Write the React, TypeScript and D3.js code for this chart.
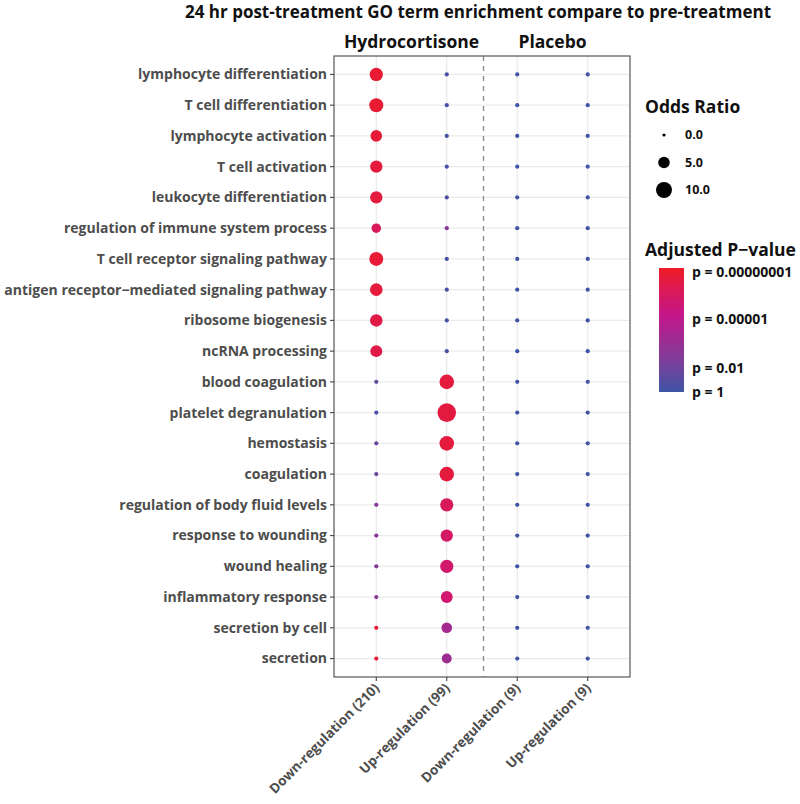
import React from "react";
import * as d3 from "d3";

const terms = [
  "lymphocyte differentiation",
  "T cell differentiation",
  "lymphocyte activation",
  "T cell activation",
  "leukocyte differentiation",
  "regulation of immune system process",
  "T cell receptor signaling pathway",
  "antigen receptor\u2212mediated signaling pathway",
  "ribosome biogenesis",
  "ncRNA processing",
  "blood coagulation",
  "platelet degranulation",
  "hemostasis",
  "coagulation",
  "regulation of body fluid levels",
  "response to wounding",
  "wound healing",
  "inflammatory response",
  "secretion by cell",
  "secretion",
];

const groups = ["Down-regulation (210)", "Up-regulation (99)", "Down-regulation (9)", "Up-regulation (9)"];
const facets = ["Hydrocortisone", "Placebo"];

// odds ratio per term for each group
const orHcDown = [6.8, 7.6, 5.1, 5.8, 5.8, 3.3, 7.6, 6.1, 6.0, 5.4, 0.3, 0.3, 0.3, 0.3, 0.3, 0.3, 0.3, 0.3, 0.3, 0.3];
const orHcUp = [0.3, 0.3, 0.3, 0.3, 0.3, 0.3, 0.3, 0.3, 0.3, 0.3, 8.3, 13.7, 8.3, 8.3, 6.8, 5.8, 6.8, 5.4, 4.2, 3.6];
const orPlDown = [0.3, 0.3, 0.3, 0.3, 0.3, 0.3, 0.3, 0.3, 0.3, 0.3, 0.3, 0.3, 0.3, 0.3, 0.3, 0.3, 0.3, 0.3, 0.3, 0.3];
const orPlUp = [0.3, 0.3, 0.3, 0.3, 0.3, 0.3, 0.3, 0.3, 0.3, 0.3, 0.3, 0.3, 0.3, 0.3, 0.3, 0.3, 0.3, 0.3, 0.3, 0.3];

// -log10 adjusted p-value
const lpHcDown = [7.6, 7.6, 7.4, 7.3, 7.3, 6.4, 7.5, 7.3, 7.0, 7.0, 1.2, 0.4, 1.4, 1.3, 2.4, 2.4, 2.4, 2.6, 7.4, 7.4];
const lpHcUp = [0.3, 0.3, 0.4, 0.5, 0.5, 2.5, 0.3, 0.3, 0.3, 0.3, 7.3, 7.2, 7.3, 7.3, 6.4, 6.2, 5.9, 5.8, 3.6, 3.4];
const lpPlDown = [0.1, 0.1, 0.1, 0.1, 0.1, 0.1, 0.1, 0.1, 0.1, 0.1, 0.1, 0.1, 0.1, 0.1, 0.1, 0.1, 0.1, 0.1, 0.1, 0.1];
const lpPlUp = [0.1, 0.1, 0.1, 0.1, 0.1, 0.1, 0.1, 0.1, 0.1, 0.1, 0.1, 0.1, 0.1, 0.1, 0.1, 0.1, 0.1, 0.1, 0.1, 0.1];

const orSeries = [orHcDown, orHcUp, orPlDown, orPlUp];
const lpSeries = [lpHcDown, lpHcUp, lpPlDown, lpPlUp];

const sizeBreaks = [0, 5, 10];
const pBreaks = [7.75, 4.7, 1.55, 0];
const pLabels = ["p = 0.00000001", "p = 0.00001", "p = 0.01", "p = 1"];

const FONT = "'Open Sans', sans-serif";
const GRAY = "#4D4D4D";

export default function App() {
  const W = 800, H = 804;
  const panel = { l: 334, r: 630, t: 56, b: 677 };

  const x = d3.scalePoint<string>().domain(groups).range([panel.l, panel.r]).padding(0.6);
  const y = d3.scalePoint<string>().domain(terms).range([panel.t, panel.b]).padding(0.6);

  const rScale = (v: number) => Math.sqrt(2.6 + v * 6.1);
  const color = d3
    .scaleLinear<string>()
    .domain([0, 2, 5, 8])
    .range(["#3E55A6", "#7C3E99", "#C5168A", "#EE1C25"])
    .interpolate(d3.interpolateRgb)
    .clamp(true);

  const dashX = ((x(groups[1]) as number) + (x(groups[2]) as number)) / 2 + 1.5;

  const cb = { x: 659, w: 25, top: 268, bot: 392 };
  const cbY = d3.scaleLinear().domain([0, 8]).range([cb.bot, cb.top]);

  const gradStops = d3.range(0, 8.01, 0.5);

  return (
    <svg width={W} height={H} style={{ display: "block", position: "absolute", left: 0, top: 0 }}>
      <defs>
        <linearGradient id="pgrad" x1="0" y1="1" x2="0" y2="0">
          {gradStops.map((s) => (
            <stop key={s} offset={`${(s / 8) * 100}%`} stopColor={color(s)} />
          ))}
        </linearGradient>
      </defs>
      <rect width={W} height={H} fill="#fff" />
      <text x={478} y={18} textAnchor="middle" fontFamily={FONT} fontWeight={700} fontSize={17} fill="#111">
        24 hr post-treatment GO term enrichment compare to pre-treatment
      </text>
      {facets.map((f, i) => {
        const cx = ((x(groups[i * 2]) as number) + (x(groups[i * 2 + 1]) as number)) / 2;
        return (
          <text key={f} x={cx} y={48} textAnchor="middle" fontFamily={FONT} fontWeight={700} fontSize={17.5} fill="#111">
            {f}
          </text>
        );
      })}
      {/* grid */}
      {terms.map((t) => (
        <line key={t} x1={panel.l} x2={panel.r} y1={y(t)} y2={y(t)} stroke="#EBEBEB" strokeWidth={1.3} />
      ))}
      {groups.map((g) => (
        <line key={g} x1={x(g)} x2={x(g)} y1={panel.t} y2={panel.b} stroke="#EBEBEB" strokeWidth={1.3} />
      ))}
      <line x1={dashX} x2={dashX} y1={panel.t} y2={panel.b} stroke="#888" strokeWidth={1.3} strokeDasharray="5,5" />
      {/* points */}
      {groups.map((g, gi) =>
        terms.map((t, ti) => (
          <circle
            key={g + t}
            cx={x(g)}
            cy={y(t)}
            r={rScale(orSeries[gi][ti])}
            fill={color(lpSeries[gi][ti])}
          />
        ))
      )}
      <rect x={panel.l} y={panel.t} width={panel.r - panel.l} height={panel.b - panel.t} fill="none" stroke="#555" strokeWidth={1.2} />
      {/* y axis */}
      {terms.map((t) => (
        <g key={t}>
          <line x1={panel.l - 4} x2={panel.l} y1={y(t)} y2={y(t)} stroke="#444" strokeWidth={1.1} />
          <text x={panel.l - 7} y={y(t)} dy="0.35em" textAnchor="end" fontFamily={FONT} fontWeight={700} fontSize={14} fill={GRAY}>
            {t}
          </text>
        </g>
      ))}
      {/* x axis */}
      {groups.map((g) => (
        <g key={g}>
          <line x1={x(g)} x2={x(g)} y1={panel.b} y2={panel.b + 4} stroke="#444" strokeWidth={1.1} />
          <text
            transform={`translate(${(x(g) as number) + 4},${panel.b + 12}) rotate(-45)`}
            textAnchor="end"
            fontFamily={FONT}
            fontWeight={700}
            fontSize={13.5}
            fill={GRAY}
          >
            {g}
          </text>
        </g>
      ))}
      {/* size legend */}
      <text x={645} y={113} fontFamily={FONT} fontWeight={700} fontSize={17.5} fill="#111">
        Odds Ratio
      </text>
      {sizeBreaks.map((b, i) => (
        <g key={b}>
          <circle cx={664} cy={135 + i * 27.5} r={rScale(b)} fill="#000" />
          <text x={685} y={135 + i * 27.5} dy="0.35em" fontFamily={FONT} fontWeight={700} fontSize={12.5} fill="#111">
            {b.toFixed(1)}
          </text>
        </g>
      ))}
      {/* color legend */}
      <text x={645} y={256} fontFamily={FONT} fontWeight={700} fontSize={17.5} fill="#111">
        {"Adjusted P\u2212value"}
      </text>
      <rect x={cb.x} y={cb.top} width={cb.w} height={cb.bot - cb.top} fill="url(#pgrad)" />
      {pBreaks.map((b, i) => (
        <text key={b} x={692} y={cbY(b)} dy="0.35em" fontFamily={FONT} fontWeight={700} fontSize={14} fill="#111">
          {pLabels[i]}
        </text>
      ))}
    </svg>
  );
}
